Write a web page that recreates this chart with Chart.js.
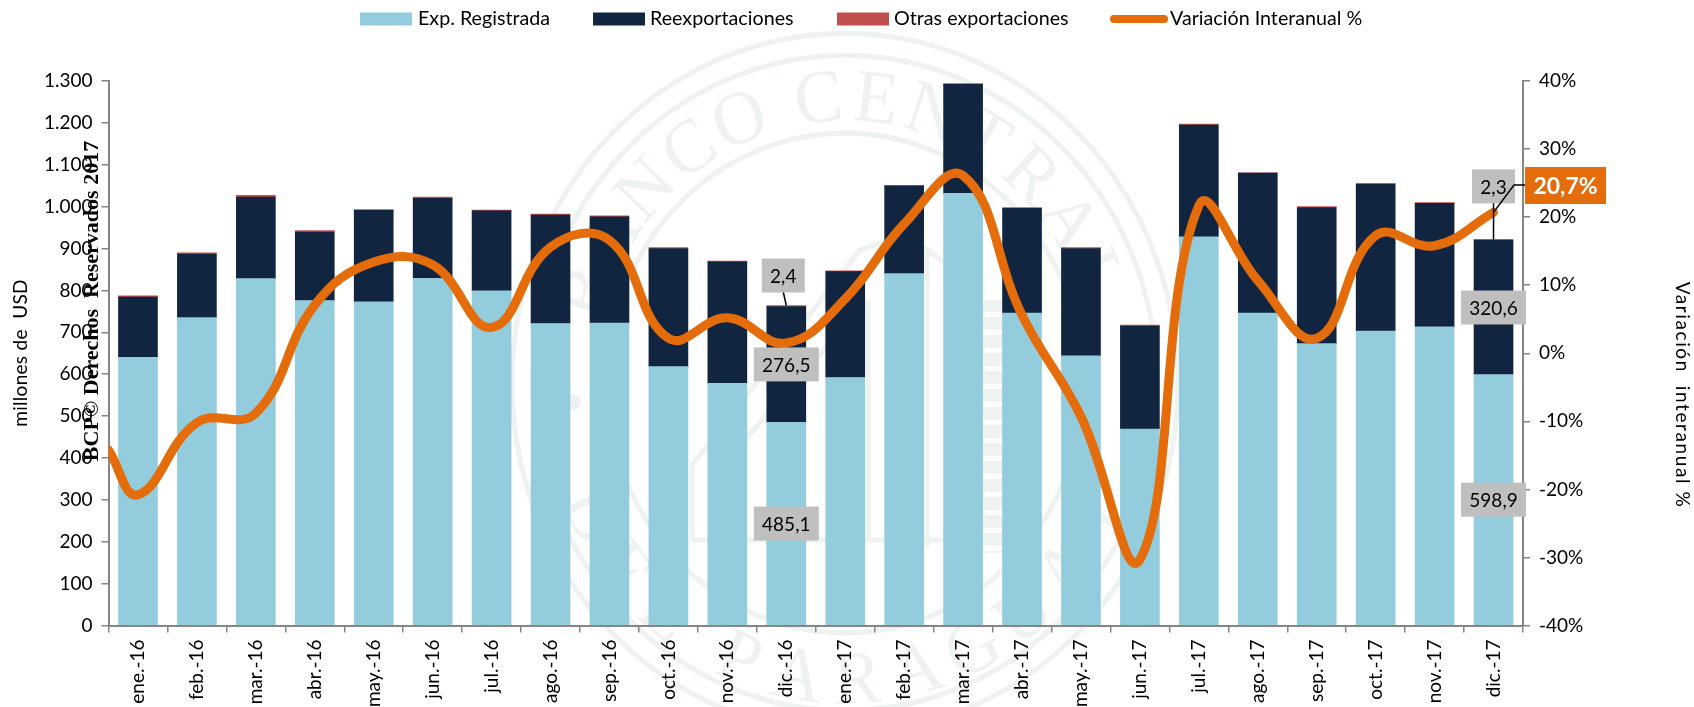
<!DOCTYPE html>
<html><head><meta charset="utf-8">
<style>html,body{margin:0;padding:0;background:#fff}#w{position:relative;width:1694px;height:707px}</style>
<script src="https://cdn.jsdelivr.net/npm/chart.js@4/dist/chart.umd.js"></script>
</head><body><div id="w"><canvas id="c"></canvas></div>
<script>
const categories=['ene.-16','feb.-16','mar.-16','abr.-16','may.-16','jun.-16','jul.-16','ago.-16','sep.-16','oct.-16','nov.-16','dic.-16','ene.-17','feb.-17','mar.-17','abr.-17','may.-17','jun.-17','jul.-17','ago.-17','sep.-17','oct.-17','nov.-17','dic.-17'];
const expRegistrada=[640,735,828,776,773,829,799,721,722,618,578,485.1,592,840,1032,746,644,469,928,746,673,703,713,598.9];
const reexportaciones=[144,152,195,163,218,191,191,259,254,282,290,276.5,253,209,260,250,256,246,267,334,325,351,295,320.6];
const otrasExportaciones=[3,3,4,4,2,3,2,2,2,2,2,2.4,2,2,2,2,2,2,2,1,2,1,2,2.3];
const variacionInteranual=[-20.8,-10.2,-8.8,7.1,13.4,13,3.8,15.6,16.6,2.2,5.2,1.5,8,19,26.1,5.6,-9.3,-30.3,21.7,10.7,2.2,17.3,15.8,20.7];
const variacionAntesDeEnero=-14.2;
const leftTicks=[0,100,200,300,400,500,600,700,800,900,1000,1100,1200,1300];
const rightTicks=[-40,-30,-20,-10,0,10,20,30,40];
const FONT='Lato, sans-serif';
const C={exp:'#93CCDD',re:'#112540',ot:'#C0504D',line:'#E46C0A',axis:'#868686',lab:'#BFBFBF',wm:'#EEF2F1'};
const comma=v=>v.toFixed(1).replace('.',',');
const linePts=[{x:-0.5,y:variacionAntesDeEnero}].concat(variacionInteranual.map((y,x)=>({x,y})));

function arcText(ctx,txt,r,centerDeg,step,spaceStep,inward){
  const chars=[...txt];
  const total=chars.slice(1).reduce((s,ch)=>s+(ch===' '?spaceStep:step),0);
  let d=-total/2;
  chars.forEach(ch=>{
    if(ch===' '){d+=spaceStep;return;}
    const a=(centerDeg+d*(inward?-1:1))*Math.PI/180;
    ctx.save();
    ctx.translate(r*Math.cos(a),r*Math.sin(a));
    ctx.rotate(inward?a-Math.PI/2:a+Math.PI/2);
    ctx.fillText(ch,0,0);
    ctx.restore();
    d+=step;
  });
}
const watermark={id:'watermark',beforeDraw(ch){
  const c=ch.ctx;
  c.save();c.strokeStyle=C.wm;c.fillStyle=C.wm;
  c.save();c.translate(845,383);c.scale(1,1.05);
  [[333,5],[312,5],[238,5]].forEach(([r,w])=>{c.lineWidth=w;c.beginPath();c.arc(0,0,r,0,Math.PI*2);c.stroke();});
  c.font='72px "Liberation Serif", serif';c.textAlign='center';c.textBaseline='alphabetic';
  arcText(c,'BANCO CENTRAL',250,-92,12.2,5,false);
  arcText(c,'DEL PARAGUAY',305,90,12.2,5,true);
  c.restore();
  // emblem
  c.lineWidth=5;
  c.beginPath();c.moveTo(692,540);c.lineTo(692,465);c.lineTo(860,250);c.lineTo(905,235);c.lineTo(985,290);c.stroke();
  c.beginPath();c.moveTo(718,540);c.lineTo(718,470);c.lineTo(868,300);c.stroke();
  c.beginPath();c.moveTo(692,540);c.lineTo(1003,540);c.stroke();
  c.beginPath();c.moveTo(868,300);c.lineTo(868,540);c.stroke();
  c.beginPath();c.moveTo(927,247);c.lineTo(927,547);c.stroke();
  c.fillRect(983,300,20,253);
  c.fillStyle='#fff';for(let y=312;y<553;y+=18)c.fillRect(983,y,20,5);
  c.fillStyle=C.wm;
  c.beginPath();c.arc(573,402,8,0,Math.PI*2);c.fill();
  c.restore();
}};
function box(c,cx,cy,w,h,txt,bg,fg,font){
  c.fillStyle=bg;c.fillRect(cx-w/2,cy-h/2,w,h);
  c.fillStyle=fg;c.font=font;c.textAlign='center';c.textBaseline='middle';c.fillText(txt,cx,cy+1);
}
const annotations={id:'annotations',afterDatasetsDraw(ch){
  const c=ch.ctx,f='19px '+FONT;
  const seg=(d,i)=>ch.getDatasetMeta(d).data[i];
  const font=f;c.save();
  [11,23].forEach(i=>{
    const top=seg(2,i),e0=seg(0,i),e1=seg(1,i);
    const mid=el=>(el.y+el.base)/2;
    c.strokeStyle='#000';c.lineWidth=1.5;c.beginPath();
    if(i===11){c.moveTo(top.x-3,292);c.lineTo(top.x,top.y);}else{c.moveTo(top.x,202);c.lineTo(top.x,top.y);}
    c.stroke();
    box(c,e0.x,mid(e0),65,34,comma(expRegistrada[i]),C.lab,'#000',font);
    box(c,e1.x,mid(e1),65,34,comma(reexportaciones[i]),C.lab,'#000',font);
    box(c,top.x-(i===11?3:0),i===11?top.y-30:top.y-53,43,34,comma(otrasExportaciones[i]),C.lab,'#000',font);
  });
  const p=ch.getDatasetMeta(3).data[24];
  c.strokeStyle='#000';c.lineWidth=1.5;c.beginPath();c.moveTo(p.x,p.y);c.lineTo(1514,185);c.lineTo(1526,185);c.stroke();
  box(c,1565.5,185.5,81,37,comma(variacionInteranual[23])+'%',C.line,'#fff','bold 23px '+FONT);
  // legend
  const ds=ch.data.datasets;
  const items=[[360,52,13,418],[593,52,13,650],[837,52,13,894],[1110,58,8,1170]];
  c.textBaseline='middle';c.textAlign='left';c.font='19.7px '+FONT;
  ds.forEach((d,i)=>{
    const [x,w,h,tx]=items[i];
    c.fillStyle=d.legendColor;
    if(i===3){c.beginPath();c.roundRect(x,19-h/2,w,h,h/2);c.fill();}
    else c.fillRect(x,19-h/2,w,h);
    c.fillStyle='#000';c.fillText(d.label,tx,19);
  });
  // axis titles
  const rot=(t,x,y,a,ls)=>{c.save();c.letterSpacing=ls;c.translate(x,y);c.rotate(a);c.textAlign='center';c.textBaseline='middle';c.fillText(t,0,0);c.restore();};
  c.font='19px '+FONT;
  rot('millones de  USD',21,353,-Math.PI/2,'0.3px');
  rot('Variación  interanual %',1682,395,Math.PI/2,'1.6px');
  c.font='bold 22px "Liberation Serif", serif';
  rot('BCP© Derechos  Reservados 2017',92,301,-Math.PI/2,'0px');
  c.restore();
}};
const barStyle={type:'bar',xAxisID:'x',yAxisID:'y',stack:'s',barThickness:39,grouped:false};
new Chart(document.getElementById('c'),{
  data:{labels:categories,datasets:[
    {...barStyle,label:'Exp. Registrada',data:expRegistrada,backgroundColor:C.exp,legendColor:C.exp,order:1},
    {...barStyle,label:'Reexportaciones',data:reexportaciones,backgroundColor:C.re,legendColor:C.re,order:2},
    {...barStyle,label:'Otras exportaciones',data:otrasExportaciones,backgroundColor:C.ot,legendColor:C.ot,order:3},
    {type:'line',label:'Variación Interanual %',data:linePts,borderColor:C.line,legendColor:C.line,borderWidth:9,borderCapStyle:'round',borderJoinStyle:'round',pointRadius:0,tension:0.42,xAxisID:'xl',yAxisID:'yr',order:0}
  ]},
  options:{
    responsive:true,maintainAspectRatio:false,animation:false,
    layout:{padding:{top:81,left:0,right:0,bottom:0}},
    plugins:{legend:{display:false},tooltip:{enabled:false},title:{display:false}},
    scales:{
      x:{type:'category',stacked:true,offset:true,position:'bottom',afterFit:s=>{s.height=81.5},
        grid:{offset:true,drawOnChartArea:false,drawTicks:true,tickLength:7,color:C.axis,lineWidth:1.5},
        border:{color:C.axis,width:2},
        ticks:{minRotation:90,maxRotation:90,autoSkip:false,font:{family:FONT,size:19},color:'#000',padding:7}},
      xl:{type:'linear',display:false,min:-0.5,max:23.5},
      y:{position:'left',stacked:true,min:0,max:1300,afterFit:s=>{s.width=108.5},
        afterBuildTicks:s=>{s.ticks=leftTicks.map(value=>({value}))},
        grid:{drawOnChartArea:false,drawTicks:true,tickLength:7,color:C.axis,lineWidth:1.5},
        border:{color:C.axis,width:2},
        ticks:{font:{family:FONT,size:19},color:'#000',padding:9,callback:v=>v>=1000?String(v).replace(/(\d)(\d{3})$/,'$1.$2'):String(v)}},
      yr:{position:'right',min:-40,max:40,afterFit:s=>{s.width=171},
        afterBuildTicks:s=>{s.ticks=rightTicks.map(value=>({value}))},
        grid:{drawOnChartArea:false,drawTicks:true,tickLength:7,color:C.axis,lineWidth:1.5},
        border:{color:C.axis,width:2},
        ticks:{font:{family:FONT,size:19},color:'#000',padding:9,callback:v=>v+'%'}}
    }
  },
  plugins:[watermark,annotations]
});
</script></body></html>
